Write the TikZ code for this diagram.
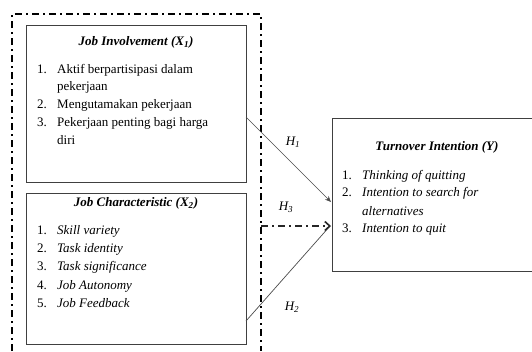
\documentclass[tikz,border=0pt]{standalone}
\usepackage{fontspec}
\setmainfont{Liberation Serif}
\usetikzlibrary{arrows.meta}
\tikzset{
  box/.style={draw=black!75, line width=0.8pt, inner sep=0pt},
  txt/.style={anchor=mid west, inner sep=0pt, font=\fontsize{13}{15}\selectfont},
  itxt/.style={txt, font=\fontsize{13}{15}\selectfont\itshape},
  ttl/.style={anchor=center, inner sep=0pt, font=\fontsize{13}{15}\selectfont\bfseries\itshape},
  hlab/.style={anchor=center, inner sep=0pt, font=\fontsize{13}{15}\selectfont\itshape},
  outer/.style={line width=1.8pt, dash pattern=on 7pt off 4pt on 2pt off 4pt},
  link/.style={draw=black!70, line width=0.7pt, -{Stealth[length=6pt,width=5pt]}},
  dlink/.style={draw=black!85, line width=1.6pt, dash pattern=on 7pt off 4pt on 2pt off 4pt, -{Straight Barb[length=5pt,width=9pt,line width=1.6pt]}}
}
\begin{document}
\begin{tikzpicture}[x=1pt,y=-1pt]
\useasboundingbox[fill=white] (0,0) rectangle (532,351);
% outer dash-dot frame
\coordinate (ol) at (12,351);
\coordinate (otl) at (12,14);
\coordinate (otr) at (261,14);
\coordinate (or) at (261,351);
\draw[outer] (ol) -- (otl) -- (otr) -- (or);
% boxes
\node[box, minimum width=220pt, minimum height=157pt] (b1) at (136,103.5) {};
\node[box, minimum width=220pt, minimum height=151pt] (b2) at (136,268.5) {};
\node[box, minimum width=206pt, minimum height=153pt] (by) at (435,194.5) {};
% box 1 text
\node[ttl] (t1) at (136,42) {Job Involvement (X\textsubscript{1})};
\node[txt] (n11) at (37,71) {1.};
\node[txt] (i11) at (57,71) {Aktif berpartisipasi dalam};
\node[txt] (i11b) at (57,88) {pekerjaan};
\node[txt] (n12) at (37,106) {2.};
\node[txt] (i12) at (57,106) {Mengutamakan pekerjaan};
\node[txt] (n13) at (37,124) {3.};
\node[txt] (i13) at (57,124) {Pekerjaan penting bagi harga};
\node[txt] (i13b) at (57,142) {diri};
% box 2 text
\node[ttl] (t2) at (136,203) {Job Characteristic (X\textsubscript{2})};
\node[txt] (n21) at (37,232) {1.};
\node[itxt] (i21) at (57,232) {Skill variety};
\node[txt] (n22) at (37,250) {2.};
\node[itxt] (i22) at (57,250) {Task identity};
\node[txt] (n23) at (37,268) {3.};
\node[itxt] (i23) at (57,268) {Task significance};
\node[txt] (n24) at (37,287) {4.};
\node[itxt] (i24) at (57,287) {Job Autonomy};
\node[txt] (n25) at (37,305) {5.};
\node[itxt] (i25) at (57,305) {Job Feedback};
% box Y text
\node[ttl] (ty) at (437,147) {Turnover Intention (Y)};
\node[txt] (ny1) at (342,177) {1.};
\node[itxt] (iy1) at (362,177) {Thinking of quitting};
\node[txt] (ny2) at (342,194) {2.};
\node[itxt] (iy2) at (362,194) {Intention to search for};
\node[itxt] (iy2b) at (362,213) {alternatives};
\node[txt] (ny3) at (342,230) {3.};
\node[itxt] (iy3) at (362,230) {Intention to quit};
% connectors
\coordinate (s1) at (246,117);
\coordinate (e1) at (331,202);
\coordinate (s2) at (246,321);
\coordinate (e2) at (330,226);
\coordinate (s3) at (261,226);
\coordinate (e3) at (331,226);
\draw[link] (s1) -- (e1);
\draw[draw=black!70, line width=0.7pt] (s2) -- (e2);
\draw[dlink] (s3) -- (e3);
% labels
\node[hlab] (h1) at (293,142) {H\textsubscript{1}};
\node[hlab] (h3) at (286,207) {H\textsubscript{3}};
\node[hlab] (h2) at (292,307) {H\textsubscript{2}};
\end{tikzpicture}
\end{document}
